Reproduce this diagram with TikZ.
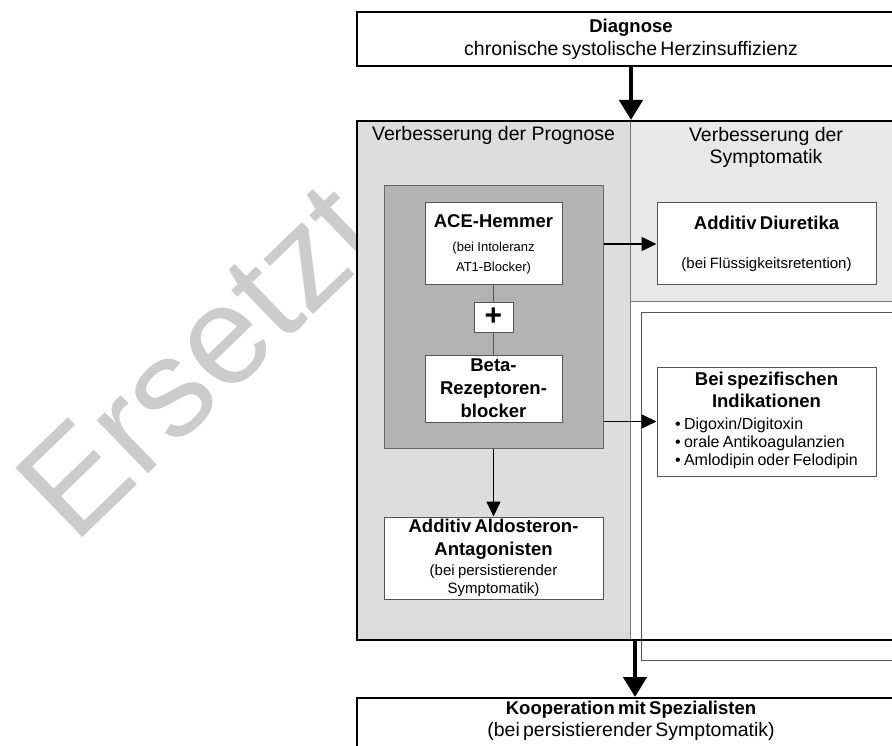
\documentclass[tikz,border=0pt]{standalone}
\usepackage{fontspec}
\setmainfont{Liberation Sans}
\usetikzlibrary{arrows.meta}
\definecolor{colL}{HTML}{DDDDDD}
\definecolor{colR}{HTML}{E8E8E8}
\definecolor{colD}{HTML}{B3B3B3}
\definecolor{bord}{HTML}{555555}
\definecolor{dbord}{HTML}{666666}
\definecolor{divc}{HTML}{777777}
\definecolor{wm}{HTML}{CCCCCC}
\newcommand{\mytl}[3]{{\fontsize{#1}{#2}\selectfont #3\par}}
\begin{document}
\begin{tikzpicture}[x=1pt,y=-1pt,
  wbox/.style={draw=bord, line width=1pt, fill=white, inner sep=0pt, align=center},
  bigbox/.style={draw=black, line width=2pt, fill=white, inner sep=0pt, align=center},
  thinarrow/.style={line width=1.6pt, -{Triangle[length=15pt,width=14pt]}},
  thickarrow/.style={line width=4.5pt, -{Triangle[length=20pt,width=23pt]}},
  plain/.style={inner sep=0pt},
  ]
\useasboundingbox (0,0) rectangle (892,746);
\clip (0,0) rectangle (892,746);
\fill[white] (0,0) rectangle (892,746);

% watermark
\node[plain, rotate=44, anchor=base west, text=wm, font=\fontsize{140}{140}\selectfont] (wmk) at (74,546) {Ersetzt};

% main frame areas
\fill[colL] (357,121) rectangle (630,640);
\fill[colR] (630,121) rectangle (910,301);
\fill[white] (630,301) rectangle (910,640);
\draw[bord, line width=1pt] (641,312) rectangle (920,660);
\draw[divc, line width=1pt] (630,121) -- (630,640) (630,301) -- (910,301);

% left column
\node[draw=dbord, fill=colD, line width=1pt, minimum width=219pt, minimum height=262pt, plain] (dark) at (493.5,317) {};
\node[wbox, text width=137pt, minimum height=82pt] (ace) at (493.5,244)
  {\mytl{18.5}{22}{\bfseries ACE-Hemmer}\mytl{13}{24}{(bei Intoleranz}\mytl{13}{20}{AT1-Blocker)}};
\node[wbox, minimum width=39pt, minimum height=30pt, font=\fontsize{30}{30}\selectfont\bfseries] (plus) at (493.5,317) {+};
\node[wbox, text width=137pt, minimum height=67pt] (beta) at (493.5,388.5)
  {\mytl{18.5}{23}{\bfseries Beta-}\mytl{18.5}{23}{\bfseries Rezeptoren-}\mytl{18.5}{23}{\bfseries blocker}};
\node[wbox, text width=219pt, minimum height=82pt] (aldo) at (493.5,558)
  {\mytl{18.5}{23}{\bfseries Additiv Aldosteron-}\mytl{18.5}{23}{\bfseries Antagonisten}\mytl{15}{20}{(bei persistierender}\mytl{15}{18}{Symptomatik)}};

% right column
\node[wbox, text width=219pt, minimum height=82pt] (diur) at (766.5,244)
  {\mytl{18.5}{22}{\bfseries Additiv Diuretika}\mytl{15}{39}{(bei Flüssigkeitsretention)}};
\node[wbox, text width=219pt, minimum height=109pt] (indik) at (766.5,421.5)
  {\mytl{18.5}{22}{\bfseries Bei spezifischen}\mytl{18.5}{22}{\bfseries Indikationen}%
   \mytl{16}{18}{\vspace{4pt}\begin{tabular}[t]{@{}l@{}}• Digoxin/Digitoxin\\• orale Antikoagulanzien\\• Amlodipin oder Felodipin\end{tabular}}};

% headers
\node[plain, anchor=west, font=\fontsize{19.5}{22}\selectfont] (hl) at (372,135) {Verbesserung der Prognose};
\node[plain, align=center, font=\fontsize{19.5}{22}\selectfont] (hr) at (766,147) {Verbesserung der\\Symptomatik};

% outer boxes
\node[draw=black, line width=2pt, minimum width=548pt, minimum height=519pt, plain] (main) at (631,380.5) {};
\node[bigbox, text width=548pt, minimum height=54pt] (diag) at (631,39)
  {\mytl{18.5}{22}{\bfseries Diagnose}\mytl{19.5}{23}{chronische systolische Herzinsuffizienz}};
\node[draw=black, line width=2pt, fill=white, minimum width=548pt, minimum height=100pt, plain, anchor=north] (koop) at (631,697) {};
\node[plain, align=center, text width=548pt] (kooptxt) at (631,721)
  {\mytl{18.5}{22}{\bfseries Kooperation mit Spezialisten}\mytl{19.5}{22}{(bei persistierender Symptomatik)}};

% connectors
\draw[thickarrow] (diag.south) -- (main.north);
\draw[thinarrow] (dark.east |- ace.east) -- (diur.west);
\draw[thinarrow] (dark.east |- indik.west) -- (indik.west);
\draw[thinarrow] (dark.south) -- (aldo.north);
\draw[bord, line width=1pt] (ace.south) -- (plus.north) (plus.south) -- (beta.north);
\draw[thickarrow] ([xshift=4pt]main.south) -- ([xshift=4pt]koop.north);
\end{tikzpicture}
\end{document}
